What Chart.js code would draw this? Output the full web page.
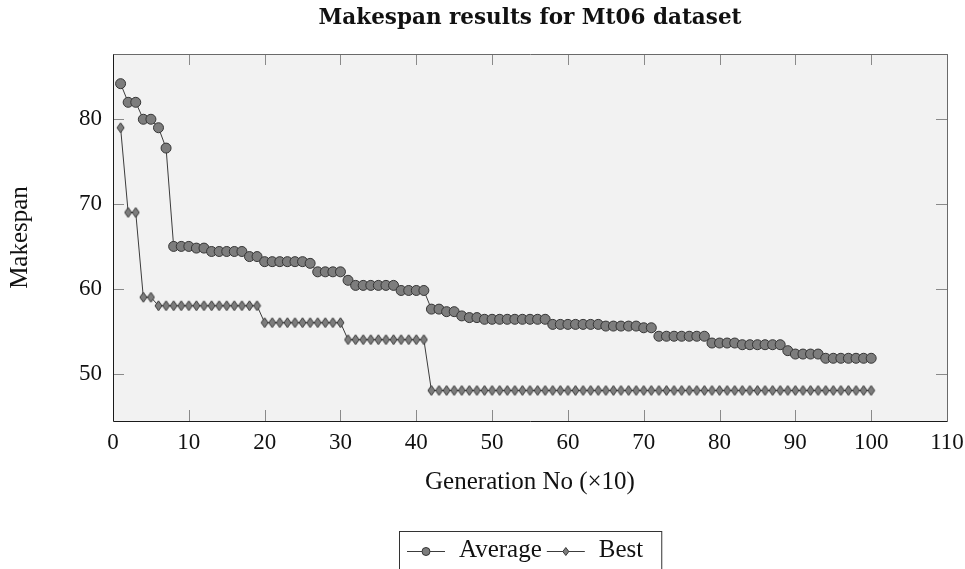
<!DOCTYPE html>
<html>
<head>
<meta charset="utf-8">
<title>Makespan results for Mt06 dataset</title>
<script src="https://cdn.jsdelivr.net/npm/chart.js@4.4.1/dist/chart.umd.min.js"></script>
<style>
  html, body { margin: 0; padding: 0; background: #fff; }
  canvas { display: block; }
</style>
</head>
<body>
<canvas id="chart" width="965" height="569"></canvas>
<script>
// generation number (x10)
const generations = [
  1, 2, 3, 4, 5, 6, 7, 8, 9, 10, 11, 12, 13, 14, 15, 16, 17, 18, 19, 20,
  21, 22, 23, 24, 25, 26, 27, 28, 29, 30, 31, 32, 33, 34, 35, 36, 37, 38, 39, 40,
  41, 42, 43, 44, 45, 46, 47, 48, 49, 50, 51, 52, 53, 54, 55, 56, 57, 58, 59, 60,
  61, 62, 63, 64, 65, 66, 67, 68, 69, 70, 71, 72, 73, 74, 75, 76, 77, 78, 79, 80,
  81, 82, 83, 84, 85, 86, 87, 88, 89, 90, 91, 92, 93, 94, 95, 96, 97, 98, 99, 100
]

const averageMakespan = [
  84.2, 82.0, 82.0, 80.0, 80.0, 79.0, 76.6, 65.0, 65.0, 65.0,
  64.8, 64.8, 64.4, 64.4, 64.4, 64.4, 64.4, 63.8, 63.8, 63.2,
  63.2, 63.2, 63.2, 63.2, 63.2, 63.0, 62.0, 62.0, 62.0, 62.0,
  61.0, 60.4, 60.4, 60.4, 60.4, 60.4, 60.4, 59.8, 59.8, 59.8,
  59.8, 57.6, 57.6, 57.3, 57.3, 56.8, 56.6, 56.6, 56.4, 56.4,
  56.4, 56.4, 56.4, 56.4, 56.4, 56.4, 56.4, 55.8, 55.8, 55.8,
  55.8, 55.8, 55.8, 55.8, 55.6, 55.6, 55.6, 55.6, 55.6, 55.4,
  55.4, 54.4, 54.4, 54.4, 54.4, 54.4, 54.4, 54.4, 53.6, 53.6,
  53.6, 53.6, 53.4, 53.4, 53.4, 53.4, 53.4, 53.4, 52.7, 52.3,
  52.3, 52.3, 52.3, 51.8, 51.8, 51.8, 51.8, 51.8, 51.8, 51.8
]

const bestMakespan = [
  79, 69, 69, 59, 59, 58, 58, 58, 58, 58,
  58, 58, 58, 58, 58, 58, 58, 58, 58, 56,
  56, 56, 56, 56, 56, 56, 56, 56, 56, 56,
  54, 54, 54, 54, 54, 54, 54, 54, 54, 54,
  54, 48, 48, 48, 48, 48, 48, 48, 48, 48,
  48, 48, 48, 48, 48, 48, 48, 48, 48, 48,
  48, 48, 48, 48, 48, 48, 48, 48, 48, 48,
  48, 48, 48, 48, 48, 48, 48, 48, 48, 48,
  48, 48, 48, 48, 48, 48, 48, 48, 48, 48,
  48, 48, 48, 48, 48, 48, 48, 48, 48, 48
]

const xTicks = [0, 10, 20, 30, 40, 50, 60, 70, 80, 90, 100, 110]
const yTicks = [50, 60, 70, 80]

const seriesNames = ['Average', 'Best']
const titleText = 'Makespan results for Mt06 dataset'
const xTitle = 'Generation No (\u00d710)'
const yTitle = 'Makespan'

const SERIF = '"Liberation Serif", "Times New Roman", serif'
const MARK_FILL = '#7d7d7d'
const MARK_EDGE = '#363636'
const LINE_COLOR = '#3c3c3c'

// pgfplots style diamond is taller than wide, so draw it ourselves
function makeDiamond(w, h) {
  const c = document.createElement('canvas')
  c.width = w + 2
  c.height = h + 2
  const g = c.getContext('2d')
  g.beginPath()
  g.moveTo(c.width / 2, 1)
  g.lineTo(c.width - 1, c.height / 2)
  g.lineTo(c.width / 2, c.height - 1)
  g.lineTo(1, c.height / 2)
  g.closePath()
  g.fillStyle = MARK_FILL
  g.fill()
  g.strokeStyle = MARK_EDGE
  g.lineWidth = 1
  g.stroke()
  return c
}

const toPoints = (values) => generations.map((g, i) => ({ x: g, y: values[i] }))

// background, frame and inward ticks
const frame = {
  id: 'frame',
  beforeDraw(chart) {
    const { ctx, chartArea: a } = chart
    ctx.save()
    ctx.fillStyle = '#fff'
    ctx.fillRect(0, 0, chart.width, chart.height)
    ctx.fillStyle = '#f2f2f2'
    ctx.fillRect(a.left, a.top, a.right - a.left, a.bottom - a.top)
    ctx.restore()
  },
  beforeDatasetsDraw(chart) {
    const { ctx, chartArea: a, scales } = chart
    const len = 11
    ctx.save()
    ctx.lineWidth = 1
    ctx.strokeStyle = '#8a8a8a'
    ctx.beginPath()
    xTicks.forEach((v) => {
      const px = Math.round(scales.x.getPixelForValue(v)) + 0.5
      ctx.moveTo(px, a.bottom)
      ctx.lineTo(px, a.bottom - len)
      ctx.moveTo(px, a.top)
      ctx.lineTo(px, a.top + len)
    })
    yTicks.forEach((v) => {
      const py = Math.round(scales.y.getPixelForValue(v)) + 0.5
      ctx.moveTo(a.left, py)
      ctx.lineTo(a.left + len, py)
      ctx.moveTo(a.right, py)
      ctx.lineTo(a.right - len, py)
    })
    ctx.stroke()

    const l = Math.round(a.left) + 0.5
    const r = Math.round(a.right) + 0.5
    const t = Math.round(a.top) + 0.5
    const b = Math.round(a.bottom) + 0.5
    ctx.strokeStyle = '#6a6a6a'
    ctx.beginPath()
    ctx.moveTo(l, t)
    ctx.lineTo(r, t)
    ctx.lineTo(r, b)
    ctx.stroke()
    ctx.strokeStyle = '#1a1a1a'
    ctx.beginPath()
    ctx.moveTo(l, t)
    ctx.lineTo(l, b)
    ctx.lineTo(r, b)
    ctx.stroke()
    ctx.restore()
  }
}

// title, axis titles and the boxed legend under the plot
const labels = {
  id: 'labels',
  afterDraw(chart) {
    const { ctx, chartArea: a } = chart
    const cx = (a.left + a.right) / 2
    ctx.save()
    ctx.fillStyle = '#111'
    ctx.textAlign = 'center'
    ctx.textBaseline = 'alphabetic'

    ctx.font = 'bold 21.5px "DejaVu Serif", serif'
    ctx.fillText(titleText, cx, 24)

    ctx.font = '25px ' + SERIF
    ctx.fillText(xTitle, cx, 489)

    ctx.save()
    ctx.translate(27, (a.top + a.bottom) / 2)
    ctx.rotate(-Math.PI / 2)
    ctx.fillText(yTitle, 0, 0)
    ctx.restore()

    // legend
    const ly = 551
    let x = 407
    ctx.textAlign = 'left'
    chart.data.datasets.forEach((ds, i) => {
      ctx.strokeStyle = LINE_COLOR
      ctx.lineWidth = 1
      ctx.beginPath()
      ctx.moveTo(x, ly + 0.5)
      ctx.lineTo(x + 38, ly + 0.5)
      ctx.stroke()
      const mx = x + 19
      ctx.beginPath()
      if (i === 0) {
        ctx.arc(mx, ly + 0.5, 4, 0, Math.PI * 2)
      } else {
        ctx.moveTo(mx, ly - 3.5)
        ctx.lineTo(mx + 3, ly + 0.5)
        ctx.lineTo(mx, ly + 4.5)
        ctx.lineTo(mx - 3, ly + 0.5)
        ctx.closePath()
      }
      ctx.fillStyle = MARK_FILL
      ctx.fill()
      ctx.strokeStyle = MARK_EDGE
      ctx.stroke()
      x += 38 + 14
      ctx.fillStyle = '#111'
      ctx.fillText(ds.label, x, 557)
      x += ctx.measureText(ds.label).width + 5
    })
    ctx.strokeStyle = '#333'
    ctx.lineWidth = 1
    ctx.strokeRect(399.5, 531.5, x + 13 - 399, 60)
    ctx.restore()
  }
}

const tickFont = { family: SERIF, size: 23 }

new Chart(document.getElementById('chart').getContext('2d'), {
  type: 'line',
  data: {
    datasets: [{
      label: seriesNames[0],
      data: toPoints(averageMakespan),
      borderColor: LINE_COLOR,
      borderWidth: 1,
      tension: 0,
      fill: false,
      pointStyle: 'circle',
      pointRadius: 5,
      pointBackgroundColor: MARK_FILL,
      pointBorderColor: MARK_EDGE,
      pointBorderWidth: 1
    }, {
      label: seriesNames[1],
      data: toPoints(bestMakespan),
      borderColor: LINE_COLOR,
      borderWidth: 1,
      tension: 0,
      fill: false,
      pointStyle: makeDiamond(7, 10),
      pointRadius: 5
    }]
  },
  options: {
    responsive: false,
    animation: false,
    events: [],
    layout: { padding: { top: 54, right: 18, left: 0, bottom: 0 } },
    plugins: {
      legend: { display: false },
      title: { display: false },
      tooltip: { enabled: false }
    },
    scales: {
      x: {
        type: 'linear',
        min: 0,
        max: 110,
        afterBuildTicks: (axis) => { axis.ticks = xTicks.map((v) => ({ value: v })) },
        afterFit: (axis) => {
          axis.height = 148
          axis.paddingLeft = 0
          axis.paddingRight = 0
        },
        grid: { display: false, drawTicks: false },
        border: { display: false },
        ticks: { font: tickFont, color: '#111', padding: 8, autoSkip: false, maxRotation: 0 }
      },
      y: {
        type: 'linear',
        min: 44.4,
        max: 87.7,
        afterBuildTicks: (axis) => { axis.ticks = yTicks.map((v) => ({ value: v })) },
        afterFit: (axis) => { axis.width = 113 },
        grid: { display: false, drawTicks: false },
        border: { display: false },
        ticks: { font: tickFont, color: '#111', padding: 11 }
      }
    }
  },
  plugins: [frame, labels]
})
</script>
</body>
</html>
